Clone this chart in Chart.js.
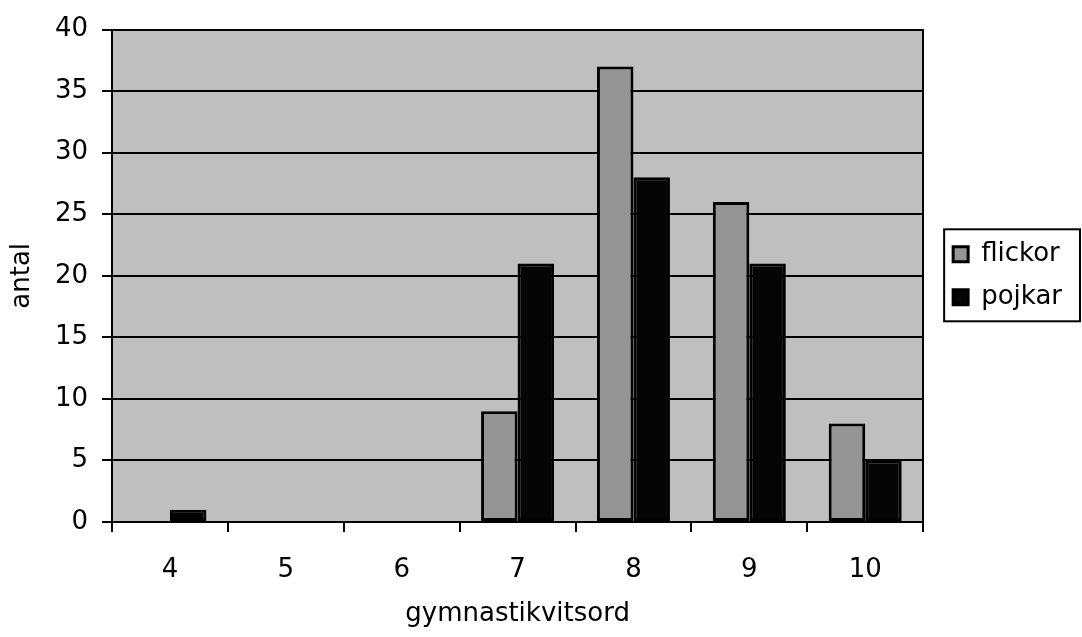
<!DOCTYPE html>
<html>
<head>
<meta charset="utf-8">
<script src="https://cdn.jsdelivr.net/npm/chart.js@4/dist/chart.umd.min.js"></script>
<style>
html,body{margin:0;padding:0;background:#fff;}
#wrap{width:1082px;height:637px;position:relative;}
</style>
</head>
<body>
<div id="wrap"><canvas id="c" width="1082" height="637"></canvas></div>
<script>
const categories = ['4','5','6','7','8','9','10'];
const flickor = [0, 0, 0, 9, 37, 26, 8];
const pojkar = [1, 0, 0, 21, 28, 21, 5];
const seriesNames = ['flickor', 'pojkar'];
const xTitle = 'gymnastikvitsord';
const yTitle = 'antal';

const FONT = 'DejaVu Sans';
const FS = 26;

const plotBg = {
  id: 'plotBg',
  beforeDraw(chart) {
    const {ctx, chartArea: a} = chart;
    ctx.save();
    ctx.fillStyle = '#bfbfbf';
    ctx.fillRect(a.left, a.top, a.right - a.left, a.bottom - a.top);
    ctx.restore();
  }
};
const legendBox = {
  id: 'legendBox',
  afterDraw(chart) {
    const lg = chart.legend;
    if (!lg || !lg.legendHitBoxes || !lg.legendHitBoxes.length) return;
    const hb = lg.legendHitBoxes;
    const first = hb[0], last = hb[hb.length - 1];
    const ctx = chart.ctx;
    const l = first.left - 9;
    const r = chart.width - 2;
    const t = first.top + first.height / 2 - 25;
    const b = last.top + last.height / 2 + 24;
    ctx.save();
    ctx.strokeStyle = '#000';
    ctx.lineWidth = 2;
    ctx.strokeRect(l, t, r - l, b - t);
    ctx.restore();
  }
};

new Chart(document.getElementById('c'), {
  type: 'bar',
  data: {
    labels: categories,
    datasets: [
      {label: seriesNames[0], data: flickor, backgroundColor: '#959595', borderColor: '#000', borderWidth: 3, borderSkipped: false},
      {label: seriesNames[1], data: pojkar, backgroundColor: '#050505', borderColor: '#000', borderWidth: 3, borderSkipped: false}
    ]
  },
  options: {
    responsive: false,
    animation: false,
    devicePixelRatio: 1,
    layout: {padding: {top: 28, right: 10, bottom: 0, left: 0}},
    datasets: {bar: {categoryPercentage: 0.63, barPercentage: 1}},
    plugins: {
      tooltip: {enabled: false},
      legend: {
        position: 'right',
        align: 'center',
        fullSize: false,
        labels: {
          color: '#000',
          font: {family: FONT, size: FS},
          boxWidth: 15,
          boxHeight: 15,
          padding: 17
        }
      }
    },
    scales: {
      x: {
        offset: true,
        grid: {display: true, drawOnChartArea: false, drawTicks: true, tickLength: 10, color: '#000', lineWidth: 2, offset: true},
        border: {display: true, color: '#000', width: 2},
        ticks: {color: '#000', font: {family: FONT, size: FS}, padding: 23, maxRotation: 0},
        title: {display: true, text: xTitle, color: '#000', font: {family: FONT, size: FS}, padding: {top: 4, bottom: 7}},
        afterFit(s) { s.height = 115; }
      },
      y: {
        min: 0, max: 40,
        ticks: {stepSize: 5, color: '#000', font: {family: FONT, size: FS}, padding: 14},
        grid: {color: '#000', lineWidth: 2, tickLength: 10, drawTicks: true},
        border: {display: true, color: '#000', width: 2},
        title: {display: true, text: yTitle, color: '#000', font: {family: FONT, size: FS}, padding: {top: 7, bottom: 0}},
        afterFit(s) { s.width = 112; }
      },
      gap: {
        type: 'linear',
        position: 'right',
        display: true,
        min: 0, max: 40,
        grid: {display: false, drawTicks: false},
        ticks: {display: false},
        border: {display: true, color: '#000', width: 2},
        afterFit(s) { s.width = 13; }
      }
    }
  },
  plugins: [plotBg, legendBox]
});
</script>
</body>
</html>
